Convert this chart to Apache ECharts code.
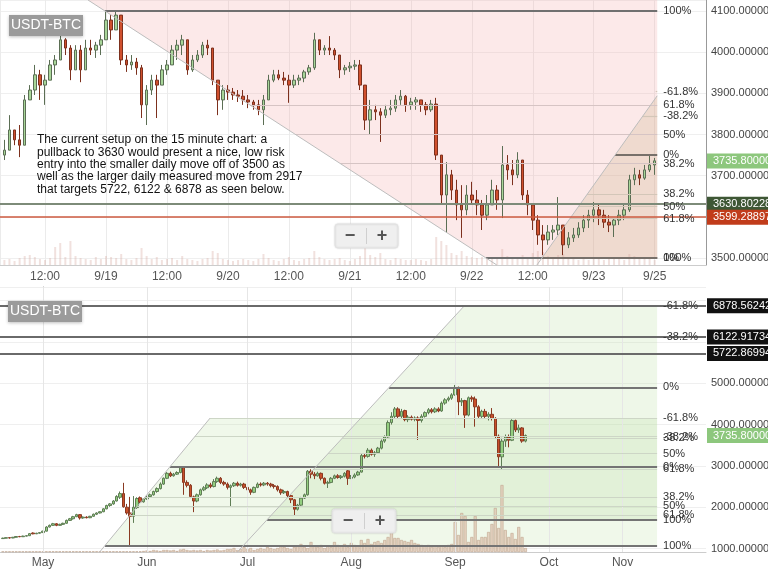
<!DOCTYPE html>
<html><head><meta charset="utf-8">
<script src="https://cdn.jsdelivr.net/npm/echarts@6/dist/echarts.min.js"></script>
<style>html,body{margin:0;padding:0;background:#fff}#c{width:768px;height:574px}</style>
</head><body><div id="c"></div>
<script>
// ---------- DATA ----------
// Top panel: 15-min chart, sampled hourly. x = hours since 9/18 00:00
const topStartHour = 4;
// [open, close, low, high]
const topOHLC = [
[3750,3762,3738,3787],[3762,3811,3762,3847],[3811,3787,3774,3811],[3787,3774,3745,3823],[3774,3884,3774,3896],
[3884,3908,3884,3920],[3908,3945,3896,3969],[3945,3920,3884,3957],[3920,3932,3872,3945],[3932,3969,3932,3981],
[3969,3981,3945,3993],[3981,4030,3981,4042],[4030,4010,3993,4034],[4010,3957,3932,4017],[3957,4005,3957,4017],
[4005,3957,3927,4017],[3957,4010,3957,4030],[4010,4005,3993,4030],[4005,4017,3986,4025],[4017,4030,3993,4042],
[4030,4078,4030,4100],[4078,4054,4030,4090],[4054,4090,4054,4100],[4090,3981,3969,4090],[3981,3969,3952,3993],
[3969,3976,3957,3993],[3976,3962,3945,3986],[3962,3872,3840,3969],[3872,3908,3823,3920],[3908,3932,3896,3945],
[3932,3920,3840,3945],[3920,3957,3920,3969],[3957,3969,3945,3981],[3969,4005,3969,4017],[4005,4017,3981,4030],
[4017,4030,3993,4042],[4030,3957,3945,4030],[3957,3981,3952,3993],[3981,3993,3976,4005],[3993,4017,3986,4025],
[4017,4010,3993,4030],[4010,3932,3920,4010],[3932,3884,3847,3932],[3884,3908,3860,3920],[3908,3903,3884,3920],
[3903,3896,3884,3913],[3896,3893,3879,3908],[3893,3884,3872,3908],[3884,3879,3864,3896],[3879,3872,3860,3884],
[3872,3860,3847,3884],[3860,3884,3823,3896],[3884,3932,3884,3945],[3932,3945,3927,3957],[3945,3937,3932,3957],
[3937,3932,3920,3952],[3932,3920,3877,3945],[3920,3932,3913,3945],[3932,3937,3920,3945],[3937,3952,3927,3957],
[3952,3962,3945,3969],[3962,4030,3957,4047],[4030,4005,3993,4030],[4005,4010,3993,4017],[4010,4005,3993,4039],
[4005,3993,3981,4010],[3993,3957,3937,3993],[3957,3962,3945,3969],[3962,3966,3952,3976],[3966,3969,3957,3981],
[3969,3920,3908,3981],[3920,3835,3811,3920],[3835,3860,3801,3884],[3860,3855,3835,3872],[3855,3847,3782,3864],
[3847,3860,3840,3872],[3860,3864,3847,3884],[3864,3884,3855,3896],[3884,3893,3872,3908],[3893,3872,3855,3896],
[3872,3879,3860,3889],[3879,3884,3860,3891],[3884,3872,3855,3884],[3872,3860,3847,3879],[3860,3874,3855,3884],
[3874,3750,3738,3889],[3750,3653,3629,3750],[3653,3702,3561,3733],[3702,3665,3641,3714],[3665,3629,3592,3690],
[3629,3617,3549,3677],[3617,3653,3604,3677],[3653,3641,3629,3685],[3641,3629,3604,3665],[3629,3604,3568,3641],
[3604,3629,3592,3653],[3629,3665,3629,3690],[3665,3641,3617,3677],[3641,3726,3597,3772],[3726,3714,3690,3750],
[3714,3702,3677,3738],[3702,3738,3694,3757],[3738,3653,3641,3738],[3653,3629,3604,3665],[3629,3592,3568,3629],
[3592,3556,3532,3604],[3556,3544,3507,3580],[3544,3563,3532,3580],[3563,3568,3544,3580],[3568,3580,3556,3648],
[3580,3532,3507,3580],[3532,3549,3524,3563],[3549,3556,3539,3573],[3556,3573,3549,3587],[3573,3592,3563,3604],
[3592,3604,3573,3617],[3604,3617,3587,3636],[3617,3604,3580,3629],[3604,3587,3573,3617],[3587,3580,3563,3604],
[3580,3592,3551,3597],[3592,3604,3580,3617],[3604,3617,3592,3629],[3617,3690,3612,3702],[3690,3702,3677,3719],
[3702,3694,3677,3714],[3694,3714,3690,3726],[3714,3726,3709,3748],[3726,3736,3702,3743]
];
// relative volume (arbitrary units), one per hourly candle
const topVolume = [
5,6,4,7,9,10,8,6,5,7,
18,22,8,24,9,7,6,5,8,6,
9,8,7,11,6,5,7,17,9,6,
8,5,6,7,5,9,6,5,4,6,
7,14,12,6,5,4,5,6,5,4,
6,11,7,5,4,6,8,5,4,6,
7,14,8,6,5,6,7,5,4,6,
9,18,10,8,12,6,5,7,6,5,
5,6,5,4,6,28,24,20,12,10,
14,9,8,7,8,6,7,6,16,9,
7,6,10,8,12,14,13,9,7,10,
11,7,6,5,6,5,7,6,5,6,
7,6,5,11,9,7,6,8,5
];
const topTickHours  = [12,24,36,48,60,72,84,96,108,120,132];
const topTickLabels = ['12:00','9/19','12:00','9/20','12:00','9/21','12:00','9/22','12:00','9/23','9/25'];

// Bottom panel: daily candles. x = days since May 1
const bottomStartDay = -12;
const bottomOHLC = [
[1240,1250,1230,1262],[1250,1262,1245,1270],[1262,1255,1240,1275],[1255,1272,1250,1280],[1272,1290,1265,1300],
[1290,1285,1275,1305],[1285,1300,1280,1310],[1300,1310,1295,1322],[1310,1360,1305,1370],[1375,1355,1345,1390],
[1355,1370,1350,1380],[1370,1385,1360,1395],[1385,1420,1380,1430],[1420,1520,1415,1540],[1520,1560,1510,1580],
[1560,1600,1550,1620],[1600,1560,1540,1615],[1560,1585,1550,1600],[1585,1610,1570,1625],[1610,1680,1600,1700],
[1680,1720,1670,1740],[1720,1770,1700,1790],[1770,1820,1760,1840],[1820,1740,1700,1830],[1740,1760,1720,1775],
[1760,1745,1730,1780],[1745,1780,1735,1790],[1780,1830,1770,1845],[1830,1860,1810,1875],[1860,1890,1850,1900],
[1890,1960,1880,1975],[1960,2040,1950,2060],[2040,2080,2010,2100],[2080,2150,2060,2170],[2150,2260,2140,2290],
[2240,2330,2200,2380],[2330,2010,1990,2590],[2000,1860,1820,2080],[1860,1780,1085,2250],[1780,2000,1620,2270],
[1990,2210,1960,2240],[2230,2130,2100,2260],[2130,2200,2110,2220],[2200,2260,2180,2280],[2260,2300,2240,2330],
[2300,2380,2280,2400],[2380,2450,2350,2480],[2450,2560,2430,2600],[2560,2700,2540,2720],[2700,2820,2680,2850],
[2820,2760,2730,2860],[2760,2800,2740,2830],[2800,2840,2780,2870],[2840,2960,2820,2980],[2960,2600,2300,2975],
[2600,2530,2480,2650],[2530,2260,2220,2560],[2250,2150,1880,2280],[2150,2300,2120,2330],[2300,2420,2280,2450],
[2420,2470,2390,2510],[2470,2540,2440,2580],[2540,2500,2460,2590],[2500,2620,2480,2680],[2620,2700,2590,2740],
[2700,2600,2560,2730],[2600,2560,2520,2640],[2560,2480,2430,2600],[2480,2520,2005,2550],[2520,2580,2490,2610],
[2580,2530,2500,2620],[2530,2560,2500,2590],[2560,2480,2440,2590],[2480,2420,2390,2510],[2420,2360,2300,2450],
[2360,2480,2340,2500],[2480,2560,2460,2600],[2560,2540,2500,2600],[2540,2580,2510,2610],[2580,2560,2520,2610],
[2560,2520,2480,2590],[2520,2500,2450,2560],[2500,2420,2380,2530],[2420,2350,2300,2450],[2350,2380,2320,2420],
[2380,2280,2240,2400],[2280,2180,2100,2300],[2180,1950,1810,2200],[1950,2050,1920,2080],[2050,2220,2020,2250],
[2220,2300,2200,2330],[2300,2870,2280,2900],[2870,2800,2700,2920],[2800,2760,2680,2850],[2760,2820,2740,2860],
[2820,2700,2650,2840],[2700,2580,2550,2720],[2580,2600,2465,2640],[2600,2700,2580,2730],[2700,2760,2680,2790],
[2760,2720,2690,2800],[2720,2750,2680,2780],[2750,2820,2720,2850],[2880,2700,2540,2900],[2700,2730,2680,2780],
[2730,2780,2700,2820],[2780,2850,2760,2880],[2850,3250,2840,3300],[3250,3230,3180,3300],[3230,3380,3200,3430],
[3380,3280,3250,3420],[3280,3320,3220,3360],[3320,3430,3300,3460],[3430,3600,3400,3640],[3600,3700,3560,3740],
[3700,4050,3680,4100],[4050,4200,4000,4300],[4200,4380,4160,4426],[4380,4200,4150,4420],[4200,4320,4150,4380],
[4340,4120,4080,4360],[4120,4180,4060,4230],[4180,4130,4100,4220],[4130,4160,4080,4200],[4160,4100,3627,4200],
[4100,4200,4050,4250],[4200,4290,4170,4320],[4290,4360,4250,4400],[4360,4310,4270,4400],[4310,4380,4280,4420],
[4380,4330,4300,4420],[4330,4520,4310,4560],[4520,4600,4480,4640],[4600,4640,4560,4680],[4640,4720,4600,4760],
[4720,4900,4700,4960],[4900,4550,4230,4920],[4550,4580,4450,4640],[4580,4230,3920,4600],[4230,4650,4200,4680],
[4650,4620,4550,4700],[4620,4430,3950,4680],[4430,4200,4150,4470],[4200,4320,4150,4360],[4320,4200,4150,4380],
[4200,4250,4100,4300],[4250,4150,4100,4400],[4150,3720,3650,4180],[3720,3220,2950,3760],[3220,3600,2917,3680],
[3600,3700,3460,3760],[3700,3620,3450,3760],[3620,4100,3600,4130],[4100,3870,3820,4120],[3870,3920,3800,4000],
[3920,3600,3560,3940],[3600,3736,3570,3760]
];
// relative volume (arbitrary units)
const bottomVolume = [
0.5,0.5,0.5,0.5,0.5,0.5,0.5,0.5,0.5,0.5,0.5,0.5,
0.6,0.6,0.6,0.6,0.6,0.6,0.6,0.6,0.6,0.6,0.6,0.6,0.6,0.6,0.6,0.6,0.6,0.6,0.6,0.6,0.6,0.6,0.6,0.6,0.6,0.6,0.6,0.6,0.6,0.6,
1,1.5,1,2,1.5,1,2,2,1.5,2,1,2.5,3,2,1.5,2,1.5,2,1,2,1.5,2,2.5,1.5,2,3,
3,4,2,3,5,3,4,2,3,4,3,5,4,3,4,6,5,4,3,5,6,8,5,4,
10,6,5,7,4,6,5,10,7,6,8,5,9,7,6,
12,9,13,8,10,11,9,12,15,25,14,14,12,11,10,12,9,8,7,6,7,5,6,5,6,5,7,8,30,17,39,36,10,15,36,12,15,15,20,28,44,24,67,22,15,19,13,25,15,4
];
const bottomTickDays   = [0,31,61,92,123,151,173];
const bottomTickLabels = ['May','Jun','Jul','Aug','Sep','Oct','Nov'];

// Fibonacci tools: anchors [x, price]
const fibRatios    = [1,0.618,0.5,0.382,0];
const fibRatiosExt = [1,0.618,0.5,0.382,0,-0.382,-0.618];
const topFibPink = {a:[23.8,4100], b:[98.8,3500], hi:4100, lo:3500, zeroAtHigh:false, ratios:fibRatios};
const topFibTan  = {a:[109.8,3500], b:[124.2,3750], hi:3750, lo:3500, zeroAtHigh:true, ratios:fibRatiosExt};
const botFibA    = {a:[18.5,1072], b:[37.9,2980], hi:2980, lo:1072, zeroAtHigh:true, ratios:fibRatiosExt};
const botFibB    = {a:[66.9,1697.9], b:[103.3,4899.8], hi:4899.8, lo:1697.9, zeroAtHigh:true, ratios:fibRatiosExt};

// Price lines with tags
const topPriceLines = [3630.802281, 3599.288973];
const topLastPrice = 3735.8;
const bottomPriceLines = [6878.562427, 6122.917341, 5722.869942];
const bottomLastPrice = 3735.8;

const noteLines = [
 'The current setup on the 15 minute chart: a',
 'pullback to 3630 would present a nice, low risk',
 'entry into the smaller daily move off of 3500 as',
 'well as the larger daily measured move from 2917',
 'that targets 5722, 6122 & 6878 as seen below.'
];

// ---------- AXIS EXTENTS ----------
const topX = {min:3.14, max:142.1}, topY = {min:3483, max:4126.7}, topFibEnd = 132.5;
const botX = {min:-12.84, max:197.9}, botY = {min:915.3, max:7331.7}, botFibEnd = 183.3;

// ---------- HELPERS ----------
function xAt(f,p){ return f.a[0] + (p-f.a[1])/(f.b[1]-f.a[1])*(f.b[0]-f.a[0]); }
function priceAt(f,x){ return f.a[1] + (x-f.a[0])/(f.b[0]-f.a[0])*(f.b[1]-f.a[1]); }
function levelPrice(f,r){ return f.zeroAtHigh ? f.hi - r*(f.hi-f.lo) : f.lo + r*(f.hi-f.lo); }
function pct(r){ return (Math.round(r*1000)/10) + '%'; }
function fibLines(f, xMin, xEnd, strong, weak){
  return f.ratios.map(r=>{
    const p = levelPrice(f,r);
    let x0 = Math.max(xMin, xAt(f,p));
    x0 = Math.min(x0, xEnd-0.3);
    const s = (r===0||r===1);
    return [{coord:[x0,p], lineStyle:{color:s?strong:weak, width:s?2:1.2, type:'solid'},
             label:{show:true, position:'end', formatter:pct(r), color:'#333', fontSize:11, distance:6}},
            {coord:[xEnd,p]}];
  });
}
function diag(f, pFrom, pTo, xEnd){
  let p1=[xAt(f,pFrom),pFrom], p2=[xAt(f,pTo),pTo];
  if (p2[0]>xEnd) p2=[xEnd, priceAt(f,xEnd)];
  if (p1[0]>xEnd) p1=[xEnd, priceAt(f,xEnd)];
  return [{coord:p1, lineStyle:{color:'#bdbdbd', width:1, type:'solid'}, label:{show:false}}, {coord:p2}];
}
function poly(f, pLow, pHigh, xEnd, fill){
  const pts=[[xAt(f,pLow),pLow],[xEnd,pLow]];
  const xt = xAt(f,pHigh);
  if (xt>xEnd) pts.push([xEnd, priceAt(f,xEnd)]); else pts.push([xEnd,pHigh],[xt,pHigh]);
  return {pts, fill};
}
const extTop = f => levelPrice(f, Math.min(...f.ratios));

const topPolys = [
  poly(topFibPink, topFibPink.lo, topY.max, topFibEnd, 'rgba(244,170,170,0.26)'),
  poly(topFibTan, topFibTan.lo, extTop(topFibTan), topFibEnd, 'rgba(195,165,115,0.22)')
];
const botPolys = [
  poly(botFibA, botFibA.lo, extTop(botFibA), botFibEnd, 'rgba(185,222,160,0.22)'),
  poly(botFibB, botFibB.lo, extTop(botFibB), botFibEnd, 'rgba(185,222,160,0.24)')
];

function polySeries(polys, xi, yi, lines){
  return {
    type:'custom', xAxisIndex:xi, yAxisIndex:yi, z:1, silent:true,
    data: polys.map(p=>p.pts[0]), encode:{x:0,y:1},
    renderItem:(params,api)=>{
      const p = polys[params.dataIndex];
      return {type:'polygon', shape:{points:p.pts.map(q=>api.coord(q))}, style:{fill:p.fill}};
    },
    markLine:{symbol:['none','none'], silent:true, animation:false, data:lines}
  };
}

const topLines = [].concat(
  fibLines(topFibPink, topX.min, topFibEnd, '#707070', '#d6c4c4'),
  fibLines(topFibTan, topX.min, topFibEnd, '#77706a', '#d3c6b8'),
  [diag(topFibPink, topY.max, topY.min, topFibEnd), diag(topFibTan, topY.min, extTop(topFibTan), topFibEnd)]
);
const botLines = [].concat(
  bottomTickDays.map(d=>({xAxis:d, lineStyle:{color:'#e6e6e6', width:1, type:'solid'}, label:{show:false}})),
  fibLines(botFibA, botX.min, botFibEnd, '#747474', '#cdd6c6'),
  fibLines(botFibB, botX.min, botFibEnd, '#747474', '#cdd6c6'),
  [diag(botFibA, botY.min, extTop(botFibA), botFibEnd), diag(botFibB, botY.min, extTop(botFibB), botFibEnd)]
);

function tag(v, bg, lineColor, width){
  return {yAxis:v, lineStyle:{color:lineColor, width:width, type:'solid'},
    label:{show:true, position:'end', formatter:v.toFixed(6), backgroundColor:bg, color:'#fff',
      fontSize:11, padding:[2,4,2,6], distance:1}};
}

const candleStyleTop = {color:'#a8d699', color0:'#d0502e', borderColor:'#5b6e54', borderColor0:'#7c301d', borderWidth:1};
const candleStyleBot = {color:'#93cf7f', color0:'#c9502a', borderColor:'#5f7d55', borderColor0:'#8a3a22', borderWidth:1};

const font = '"Liberation Sans", Arial, sans-serif';
const chart = echarts.init(document.getElementById('c'), null, {renderer:'canvas'});
chart.setOption({
  animation:false,
  backgroundColor:'#ffffff',
  textStyle:{fontFamily:font},
  grid:[
    {left:0, top:0, width:706, height:265, containLabel:false, outerBoundsMode:'none'},
    {left:0, top:287, width:706, height:265, containLabel:false, outerBoundsMode:'none'}
  ],
  xAxis:[
    {type:'value', gridIndex:0, min:topX.min, max:topX.max, minInterval:12, maxInterval:12,
     axisLine:{show:true, lineStyle:{color:'#cccccc'}}, axisTick:{show:false},
     axisLabel:{color:'#555', fontSize:12, margin:6, showMinLabel:false, showMaxLabel:false,
       formatter:v=>{const i=topTickHours.indexOf(Math.round(v)); return i>=0?topTickLabels[i]:'';}},
     splitLine:{show:true, lineStyle:{color:'#ebebeb'}}},
    {type:'value', gridIndex:1, min:botX.min, max:botX.max,
     axisLine:{show:true, lineStyle:{color:'#cccccc'}}, axisTick:{show:false, customValues:bottomTickDays},
     axisLabel:{color:'#555', fontSize:12, margin:5, customValues:bottomTickDays,
       formatter:v=>{const i=bottomTickDays.indexOf(Math.round(v)); return i>=0?bottomTickLabels[i]:'';}},
     splitLine:{show:false}}
  ],
  yAxis:[
    {type:'value', gridIndex:0, position:'right', min:topY.min, max:topY.max, minInterval:100, maxInterval:100,
     axisLine:{show:true, lineStyle:{color:'#999'}}, axisTick:{show:false},
     axisLabel:{color:'#444', fontSize:11, margin:5, showMinLabel:false, showMaxLabel:false, formatter:v=>v.toFixed(6)},
     splitLine:{show:true, lineStyle:{color:'#efefef'}}},
    {type:'value', gridIndex:1, position:'right', min:botY.min, max:botY.max, minInterval:1000, maxInterval:1000,
     axisLine:{show:true, lineStyle:{color:'#999'}}, axisTick:{show:false},
     axisLabel:{color:'#444', fontSize:11, margin:5, showMinLabel:false, showMaxLabel:false,
       formatter:v=>v>5500?'':v.toFixed(6)},
     splitLine:{show:true, lineStyle:{color:'#efefef'}}},
    {type:'value', gridIndex:1, min:0, max:265, show:false},
    {type:'value', gridIndex:0, min:0, max:265, show:false}
  ],
  series:[
    polySeries(topPolys, 0, 0, topLines),
    {type:'bar', xAxisIndex:0, yAxisIndex:3, z:2, barWidth:2, silent:true,
     data: topVolume.map((v,i)=>[topStartHour+i, v]),
     itemStyle:{color:'rgba(215,170,160,0.35)'}},
    {type:'candlestick', xAxisIndex:0, yAxisIndex:0, z:3, barWidth:3,
     data: topOHLC.map((r,i)=>[topStartHour+i].concat(r)), encode:{x:0, y:[1,2,3,4]},
     itemStyle:candleStyleTop,
     markLine:{symbol:['none','none'], silent:true, animation:false, data:[
       tag(topPriceLines[0], '#3e5735', '#7d8b79', 2),
       tag(topPriceLines[1], '#c13c1b', '#cc5a3f', 1.5),
       tag(topLastPrice, '#8dc77d', 'rgba(0,0,0,0)', 1)
     ]}},
    polySeries(botPolys, 1, 1, botLines),
    {type:'bar', xAxisIndex:1, yAxisIndex:2, z:2, barWidth:3, silent:true,
     data: bottomVolume.map((v,i)=>[bottomStartDay+i, v]),
     itemStyle:{color:'rgba(226,205,186,0.85)', borderColor:'#bfa58d', borderWidth:0.6}},
    {type:'candlestick', xAxisIndex:1, yAxisIndex:1, z:3, barWidth:3,
     data: bottomOHLC.map((r,i)=>[bottomStartDay+i].concat(r)), encode:{x:0, y:[1,2,3,4]},
     itemStyle:candleStyleBot,
     markLine:{symbol:['none','none'], silent:true, animation:false, data:[
       tag(bottomPriceLines[0], '#111', '#6a6a6a', 2),
       tag(bottomPriceLines[1], '#111', '#6a6a6a', 2),
       tag(bottomPriceLines[2], '#111', '#6a6a6a', 2),
       tag(bottomLastPrice, '#8dc77d', 'rgba(0,0,0,0)', 1)
     ]}}
  ],
  graphic:[
    {type:'rect', x:9, y:15, shape:{width:74, height:21}, style:{fill:'#9b9b9b', shadowBlur:3, shadowColor:'rgba(0,0,0,0.25)', shadowOffsetY:1}, z:20},
    {type:'text', x:46, y:25.5, style:{text:'USDT-BTC', fill:'#fff', font:'14px '+font, align:'center', verticalAlign:'middle'}, z:21},
    {type:'rect', x:8, y:301, shape:{width:74, height:21}, style:{fill:'#9b9b9b', shadowBlur:3, shadowColor:'rgba(0,0,0,0.25)', shadowOffsetY:1}, z:20},
    {type:'text', x:45, y:311.5, style:{text:'USDT-BTC', fill:'#fff', font:'14px '+font, align:'center', verticalAlign:'middle'}, z:21},
    {type:'text', x:37, y:134, style:{text:noteLines.join('\n'), fill:'#111', font:'12px '+font, lineHeight:12.3}, z:21},
    {type:'rect', x:335, y:224, shape:{width:63, height:24, r:3}, style:{fill:'#efefef', stroke:'#e2e2e2', shadowBlur:2, shadowColor:'rgba(0,0,0,0.12)'}, z:20},
    {type:'line', shape:{x1:366.5, y1:228, x2:366.5, y2:244}, style:{stroke:'#cfcfcf'}, z:21},
    {type:'text', x:350, y:236, style:{text:'−', fill:'#555', font:'bold 18px '+font, align:'center', verticalAlign:'middle'}, z:21},
    {type:'text', x:382, y:236, style:{text:'+', fill:'#555', font:'bold 18px '+font, align:'center', verticalAlign:'middle'}, z:21},
    {type:'rect', x:332, y:509, shape:{width:64, height:24, r:3}, style:{fill:'#efefef', stroke:'#e2e2e2', shadowBlur:2, shadowColor:'rgba(0,0,0,0.12)'}, z:20},
    {type:'line', shape:{x1:364.5, y1:513, x2:364.5, y2:529}, style:{stroke:'#cfcfcf'}, z:21},
    {type:'text', x:348, y:521, style:{text:'−', fill:'#555', font:'bold 18px '+font, align:'center', verticalAlign:'middle'}, z:21},
    {type:'text', x:380, y:521, style:{text:'+', fill:'#555', font:'bold 18px '+font, align:'center', verticalAlign:'middle'}, z:21}
  ]
});
</script></body></html>
